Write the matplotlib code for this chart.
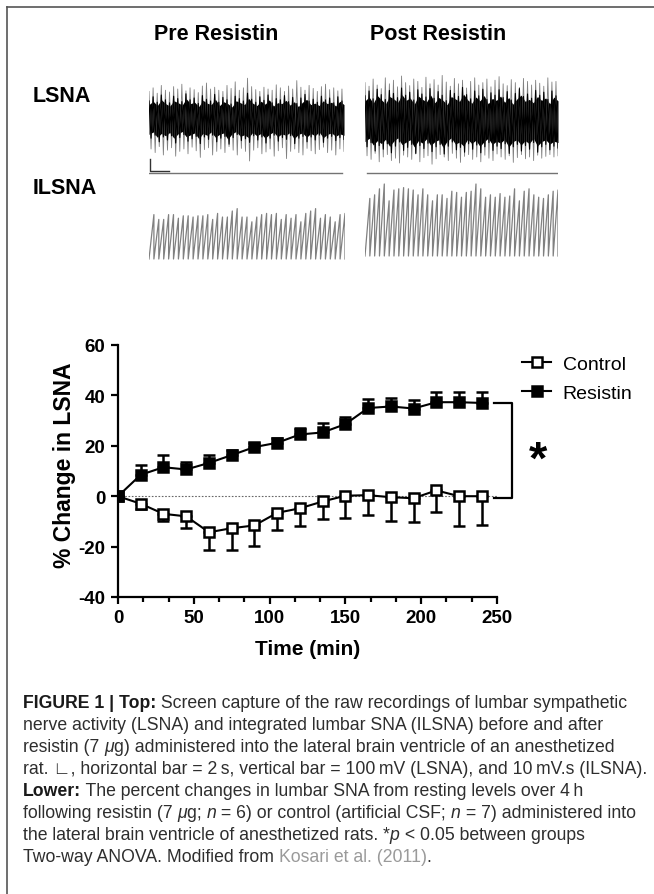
import numpy as np
import matplotlib
matplotlib.use('Agg')
import matplotlib.pyplot as plt
from matplotlib import font_manager
from matplotlib.lines import Line2D

W, H = 654, 895

# ---- data: lower panel (% change in LSNA) ----
time_min = [0, 15, 30, 45, 60, 75, 90, 105, 120, 135, 150, 165, 180, 195, 210, 225, 240]
resistin_mean = [0, 8.5, 11.5, 10.6, 13.2, 16.3, 19.5, 21.2, 24.5, 25.3, 28.6, 35.0, 35.6, 34.8, 37.3, 37.3, 37.0]
resistin_sem = [0, 3.8, 5.0, 3.0, 3.0, 2.2, 1.8, 2.0, 2.5, 3.8, 3.0, 3.5, 3.2, 3.5, 4.2, 4.0, 4.3]
control_mean = [0, -3.0, -7.0, -8.0, -14.3, -12.7, -11.6, -6.6, -4.8, -2.1, 0.2, 0.4, -0.4, -0.8, 2.3, 0.0, 0.0]
control_sem = [0, 2.0, 3.0, 4.5, 7.2, 8.8, 8.0, 7.0, 7.2, 6.8, 8.8, 7.8, 9.6, 9.6, 8.6, 11.8, 11.5]

# ---- data: upper panel traces (20 s windows) ----
trace_sec = 20
# raw LSNA (mV): spike tops / bottoms and dense core envelope
pre_up = [230, 260, 215, 280, 240, 225, 270, 250, 290, 235, 260, 245, 220, 275, 300, 250,
          265, 240, 230, 280, 255, 310, 240, 260, 340, 270, 245, 230, 265, 250, 240, 285,
          260, 230, 275, 250, 320, 265, 240, 280, 255, 230, 270, 290, 245, 260, 235, 250]
pre_dn = [-250, -280, -230, -300, -260, -240, -310, -270, -250, -290, -235, -265, -320, -255, -240, -300,
          -270, -250, -280, -230, -260, -300, -245, -270, -350, -260, -240, -290, -275, -250, -310, -265,
          -240, -330, -270, -250, -280, -300, -245, -265, -290, -255, -235, -280, -260, -300, -250, -270]
pre_core_top = [150, 185, 140, 200, 160, 135, 190, 170, 145, 210, 160, 175, 130, 195, 165, 150,
                205, 140, 180, 160, 125, 190, 170, 150, 215, 165, 140, 185, 155, 200, 135, 170,
                160, 195, 145, 180, 130, 175, 205, 150, 165, 140, 190, 160, 175, 135, 185, 150]
pre_core_bot = [-160, -135, -190, -150, -175, -140, -200, -155, -130, -185, -165, -145, -205, -150, -170, -135,
                -190, -160, -145, -210, -155, -130, -180, -165, -195, -140, -175, -150, -200, -160, -135, -185,
                -155, -170, -140, -205, -160, -145, -190, -150, -175, -135, -195, -160, -145, -180, -155, -170]

post_up = [320, 290, 350, 300, 270, 360, 310, 340, 285, 375, 320, 295, 350, 330, 280, 365,
           310, 345, 300, 380, 325, 290, 355, 310, 340, 275, 330, 360, 300, 320, 350, 285,
           340, 370, 310, 295, 345, 320, 280, 355, 330, 300, 340, 315, 290, 360, 325, 330]
post_dn = [-290, -320, -270, -340, -300, -280, -330, -310, -350, -285, -300, -320, -275, -340, -305, -290,
           -360, -315, -280, -300, -330, -270, -310, -345, -295, -280, -320, -300, -340, -285, -310, -330,
           -275, -300, -320, -290, -345, -305, -280, -315, -300, -330, -285, -310, -295, -280, -300, -290]
post_core_top = [210, 250, 185, 265, 220, 180, 255, 230, 195, 275, 215, 240, 175, 260, 225, 200,
                 270, 190, 245, 215, 170, 255, 230, 205, 280, 220, 185, 250, 210, 265, 180, 235,
                 215, 260, 195, 245, 175, 230, 270, 205, 225, 190, 255, 215, 240, 180, 250, 210]
post_core_bot = [-215, -180, -250, -205, -235, -190, -265, -210, -175, -245, -220, -195, -270, -205, -230, -185,
                 -255, -215, -195, -275, -210, -175, -240, -220, -260, -190, -235, -200, -265, -215, -180, -245,
                 -210, -230, -190, -270, -215, -195, -250, -205, -235, -180, -260, -215, -195, -240, -210, -225]

# integrated LSNA (mV.s): peak of each burst
pre_int_peaks = [37, 33, 33, 37, 37, 34, 36, 36, 35, 36, 36, 37, 33, 38, 35, 35, 40, 42, 35, 35,
                 31, 35, 37, 38, 37, 38, 33, 37, 34, 37, 31, 38, 40, 42, 34, 37, 35, 31, 37, 38]
post_int_peaks = [48, 51, 56, 60, 46, 55, 56, 57, 56, 55, 51, 56, 51, 46, 51, 51, 48, 54, 53, 49,
                  53, 54, 60, 56, 49, 51, 49, 52, 49, 50, 56, 46, 54, 56, 51, 49, 48, 51, 54, 55]

caption_lines = [
    [("FIGURE 1 | Top:", "b"), (" Screen capture of the raw recordings of lumbar sympathetic", "r")],
    [("nerve activity (LSNA) and integrated lumbar SNA (ILSNA) before and after", "r")],
    [("resistin (7 ", "r"), ("\u03bc", "i"), ("g) administered into the lateral brain ventricle of an anesthetized", "r")],
    [("rat. \u221f, horizontal bar = 2\u2009s, vertical bar = 100\u2009mV (LSNA), and 10\u2009mV.s (ILSNA).", "r")],
    [("Lower:", "b"), (" The percent changes in lumbar SNA from resting levels over 4\u2009h", "r")],
    [("following resistin (7 ", "r"), ("\u03bc", "i"), ("g; ", "r"), ("n", "i"), (" = 6) or control (artificial CSF; ", "r"),
     ("n", "i"), (" = 7) administered into", "r")],
    [("the lateral brain ventricle of anesthetized rats. *", "r"), ("p", "i"), (" < 0.05 between groups", "r")],
    [("Two-way ANOVA. Modified from ", "r"), ("Kosari et al. (2011)", "g"), (".", "r")],
]


def pick_font(names):
    for n in names:
        try:
            font_manager.findfont(font_manager.FontProperties(family=n), fallback_to_default=False)
            return n
        except Exception:
            pass
    return 'DejaVu Sans'


BOLD_FONT = pick_font(['Liberation Sans', 'Arial'])
CAP_FONT = BOLD_FONT
plt.rcParams['font.family'] = [BOLD_FONT, 'DejaVu Sans']
plt.rcParams['axes.unicode_minus'] = False


def px_axes(fig, x0, y0, x1, y1):
    ax = fig.add_axes([x0 / W, 1 - y1 / H, (x1 - x0) / W, (y1 - y0) / H])
    ax.set_axis_off()
    return ax


def zigzag(a, b):
    zz = np.empty(len(a) * 2)
    zz[0::2] = a
    zz[1::2] = b
    return zz


def draw_raw(ax, up, dn, core_top, core_bot):
    zz = zigzag(up, dn)
    ax.plot(np.linspace(0, trace_sec, len(zz)), zz, color='0.5', lw=0.6)
    zc = zigzag(core_top, core_bot)
    ax.plot(np.linspace(0, trace_sec, len(zc)), zc, color='black', lw=0.8)
    tc = np.linspace(0, trace_sec, len(core_top))
    ax.fill_between(tc, np.array(core_bot) * 0.8, np.array(core_top) * 0.8, color='black', lw=0)


def draw_integrated(ax, peaks):
    n = len(peaks)
    period = trace_sec / n
    starts = np.arange(n) * period
    xs = np.empty(n * 3)
    ys = np.empty(n * 3)
    xs[0::3] = starts
    xs[1::3] = starts + period
    xs[2::3] = starts + period
    ys[0::3] = 0
    ys[1::3] = peaks
    ys[2::3] = 0
    ax.plot(xs, ys, color='0.5', lw=0.9)


fig = plt.figure(figsize=(W / 100, H / 100), dpi=100)

# frame
fig.add_artist(Line2D([7 / W, 1], [1 - 8 / H, 1 - 8 / H], color='#555555', lw=1.2))
fig.add_artist(Line2D([7 / W, 7 / W], [1 - 8 / H, 0], color='#555555', lw=1.2))

# ---- upper panel ----
fig.text(216 / W, 1 - 35 / H, "Pre Resistin", fontsize=15.5, fontweight='bold', ha='center', va='center')
fig.text(438 / W, 1 - 35 / H, "Post Resistin", fontsize=15.5, fontweight='bold', ha='center', va='center')
fig.text(33 / W, 1 - 97 / H, "LSNA", fontsize=15.5, fontweight='bold', ha='left', va='center')
fig.text(33 / W, 1 - 188 / H, "ILSNA", fontsize=15.5, fontweight='bold', ha='left', va='center')

mv_per_px = 100 / 12.0
ax_pre = px_axes(fig, 149, 68, 344, 176)
ax_pre.set_xlim(0, trace_sec)
ax_pre.set_ylim(-56 * mv_per_px, 52 * mv_per_px)
draw_raw(ax_pre, pre_up, pre_dn, pre_core_top, pre_core_bot)
ax_pre.plot([0, trace_sec * 0.99], [-54 * mv_per_px] * 2, color='0.45', lw=1)
# scale bar: 2 s x 100 mV
ax_pre.plot([0.1, 0.1, 2.1], [-333, -433, -433], color='0.2', lw=1)

ax_post = px_axes(fig, 365, 68, 558, 176)
ax_post.set_xlim(0, trace_sec)
ax_post.set_ylim(-54 * mv_per_px, 54 * mv_per_px)
draw_raw(ax_post, post_up, post_dn, post_core_top, post_core_bot)
ax_post.plot([0.25, trace_sec], [-52 * mv_per_px] * 2, color='0.45', lw=1)

mvs_per_px = 10 / 12.0
ax_ipre = px_axes(fig, 149, 180, 345, 265)
ax_ipre.set_xlim(0, trace_sec)
ax_ipre.set_ylim(-5 * mvs_per_px, 80 * mvs_per_px)
draw_integrated(ax_ipre, pre_int_peaks)

ax_ipost = px_axes(fig, 365, 180, 558, 265)
ax_ipost.set_xlim(0, trace_sec)
ax_ipost.set_ylim(-8 * mvs_per_px, 77 * mvs_per_px)
draw_integrated(ax_ipost, post_int_peaks)

# ---- lower panel ----
ax = fig.add_axes([118 / W, 1 - 598 / H, (497 - 118) / W, (598 - 346) / H])
ax.axhline(0, color='0.4', lw=0.8, ls=(0, (1.5, 1.5)), zorder=1)
zeros = np.zeros(len(time_min))
ax.errorbar(time_min, control_mean, yerr=[control_sem, zeros], fmt='none', ecolor='black',
            elinewidth=1.8, capsize=4.5, capthick=1.8, zorder=2)
ax.errorbar(time_min, resistin_mean, yerr=[zeros, resistin_sem], fmt='none', ecolor='black',
            elinewidth=1.8, capsize=4.5, capthick=1.8, zorder=2)
l_ctrl, = ax.plot(time_min, control_mean, color='black', lw=1.5, marker='s', ms=7,
                  mfc='white', mec='black', mew=1.8, zorder=3, label='Control')
l_res, = ax.plot(time_min, resistin_mean, color='black', lw=1.5, marker='s', ms=7,
                 mfc='black', mec='black', mew=1.8, zorder=4, label='Resistin')

ax.set_xlim(0, 250)
ax.set_ylim(-40, 60)
ax.set_xticks([0, 50, 100, 150, 200, 250])
ax.set_xticks(np.arange(0, 251, 50 / 3), minor=True)
ax.set_yticks([-40, -20, 0, 20, 40, 60])
for s in ['top', 'right']:
    ax.spines[s].set_visible(False)
for s in ['left', 'bottom']:
    ax.spines[s].set_linewidth(1.6)
ax.tick_params(axis='both', which='major', length=5, width=1.6, labelsize=13.5, pad=4)
ax.tick_params(axis='x', which='minor', length=3.5, width=1.6)
for lab in ax.get_xticklabels() + ax.get_yticklabels():
    lab.set_fontweight('bold')
ax.set_xlabel("Time (min)", fontsize=15, fontweight='bold', labelpad=9)
ax.set_ylabel("% Change in LSNA", fontsize=16.5, fontweight='bold')
ax.yaxis.set_label_coords(-0.11, 0.526)

# significance bracket
ax.plot([248, 260, 260, 248], [resistin_mean[-1], resistin_mean[-1], control_mean[-1] - 0.7, control_mean[-1] - 0.7],
        color='black', lw=1.6, clip_on=False)
ax.text(277, 14, "*", fontsize=34, fontweight='bold', ha='center', va='center', clip_on=False)

fig.legend(handles=[l_ctrl, l_res], loc='upper left', bbox_to_anchor=(522 / W, 1 - 356 / H),
           frameon=False, fontsize=14, handlelength=1.5, handletextpad=0.6, labelspacing=0.6,
           borderaxespad=0, borderpad=0)

# ---- caption ----
renderer = fig.canvas.get_renderer()
cap_size = 12.7
line_y = [703.3, 725.3, 747.3, 769.3, 791.5, 813.5, 835.7, 857.7]
for runs, yy in zip(caption_lines, line_y):
    x = 23.0
    for txt, st in runs:
        kw = dict(fontsize=cap_size, family=[CAP_FONT, 'DejaVu Sans'], color='#2e2e2e', va='center', ha='left')
        if st == 'b':
            kw['fontweight'] = 'bold'
            kw['color'] = '#1a1a1a'
        elif st == 'i':
            kw['fontstyle'] = 'italic'
        elif st == 'g':
            kw['color'] = '#9a9a9a'
        t = fig.text(x / W, 1 - yy / H, txt, **kw)
        bb = t.get_window_extent(renderer)
        x += bb.width

fig.savefig('out.png', dpi=100)
